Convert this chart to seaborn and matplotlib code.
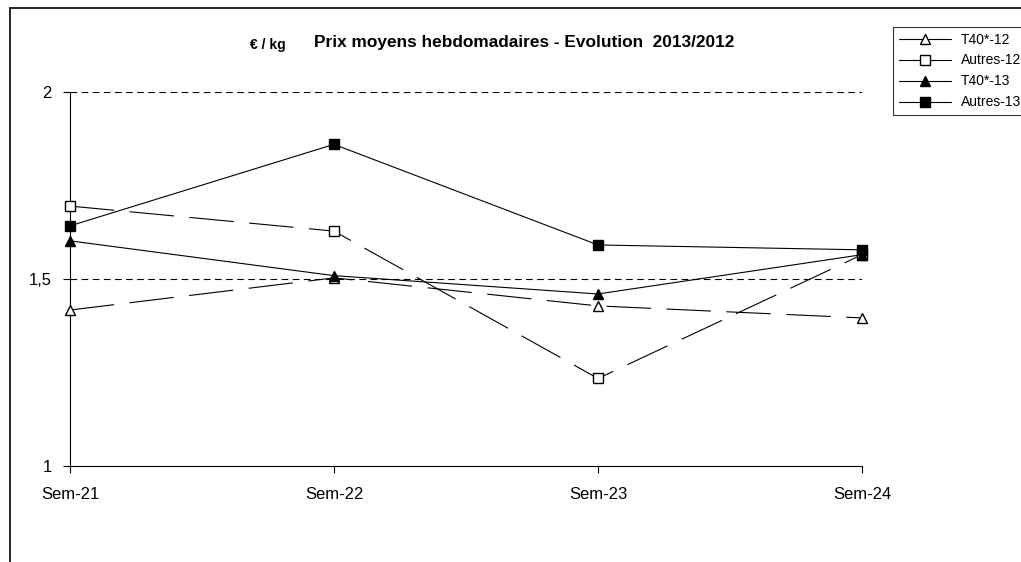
import matplotlib
matplotlib.use("Agg")
import matplotlib.pyplot as plt
from matplotlib.lines import Line2D
import pandas as pd
import seaborn as sns

# ── Données ───────────────────────────────────────────────────────────────────
semaines = ["Sem-21", "Sem-22", "Sem-23", "Sem-24"]
t40_12    = [1.417, 1.503, 1.428, 1.396]
autres_12 = [1.695, 1.628, 1.234, 1.565]
t40_13    = [1.602, 1.509, 1.460, 1.565]
autres_13 = [1.642, 1.860, 1.591, 1.578]
y_ticks   = [1, 1.5, 2]
y_labels  = ["1", "1,5", "2"]

sns.set_style("white")
plt.rcParams["font.family"] = ["Liberation Sans", "DejaVu Sans"]
plt.rcParams.update({"text.color": "black", "xtick.color": "black",
                     "ytick.color": "black", "axes.labelcolor": "black"})

fig = plt.figure(figsize=(10.21, 5.62), dpi=100)
ax = fig.add_axes([70 / 1021, 1 - 466 / 562, (862 - 70) / 1021, (466 - 92) / 562])

long_dash = (0, (40, 14))
series = [
    ("T40*-12", t40_12, "^", "white", long_dash),
    ("Autres-12", autres_12, "s", "white", long_dash),
    ("T40*-13", t40_13, "^", "black", "-"),
    ("Autres-13", autres_13, "s", "black", "-"),
]
for name, vals, mk, face, ls in series:
    df = pd.DataFrame({"sem": semaines, "prix": vals})
    sns.lineplot(data=df, x="sem", y="prix", ax=ax, color="black", lw=0.8,
                 linestyle=ls, marker=mk, markersize=7, markerfacecolor=face,
                 markeredgecolor="black", markeredgewidth=1.0, clip_on=False,
                 zorder=3)

# grille horizontale pointillée
for yv in y_ticks[1:]:
    ax.axhline(yv, color="black", lw=0.8, ls=(0, (6, 4)), zorder=1)

ax.set_xlim(0, len(semaines) - 1)
ax.set_ylim(1, 2)
ax.set_yticks(y_ticks)
ax.set_yticklabels(y_labels)
ax.set_xlabel("")
ax.set_ylabel("")
ax.tick_params(axis="both", direction="out", length=5, width=0.8, color="black",
               labelsize=12, left=True, bottom=True)
ax.tick_params(axis="y", pad=8)
ax.tick_params(axis="x", pad=10)
for s in ["top", "right"]:
    ax.spines[s].set_visible(False)
for s in ["left", "bottom"]:
    ax.spines[s].set_color("black")
    ax.spines[s].set_linewidth(0.8)

# titres
fig.text(524 / 1021, 1 - 42 / 562, "Prix moyens hebdomadaires - Evolution  2013/2012",
         ha="center", va="center", fontsize=12.4, fontweight="bold")
fig.text(250 / 1021, 1 - 45 / 562, "€ / kg", ha="left", va="center",
         fontsize=10, fontweight="bold")

# légende
handles = [Line2D([0], [0], color="black", lw=0.8, marker=mk, markersize=7,
                  markerfacecolor=face, markeredgecolor="black")
           for _, _, mk, face, _ in series]
leg = fig.legend(handles, [s[0] for s in series], loc="upper left",
                 bbox_to_anchor=(893 / 1021, 1 - 27 / 562), fontsize=10,
                 frameon=True, fancybox=False, handlelength=3.8, handletextpad=0.7,
                 labelspacing=0.5, borderpad=0.4, borderaxespad=0)
leg.get_frame().set_edgecolor("black")
leg.get_frame().set_linewidth(0.8)

# cadre du graphique
fig.add_artist(Line2D([10 / 1021, 10 / 1021], [0, 1 - 8 / 562], color="black", lw=1.2))
fig.add_artist(Line2D([10 / 1021, 1], [1 - 8 / 562, 1 - 8 / 562], color="black", lw=1.2))

fig.savefig("out.png", dpi=100)
